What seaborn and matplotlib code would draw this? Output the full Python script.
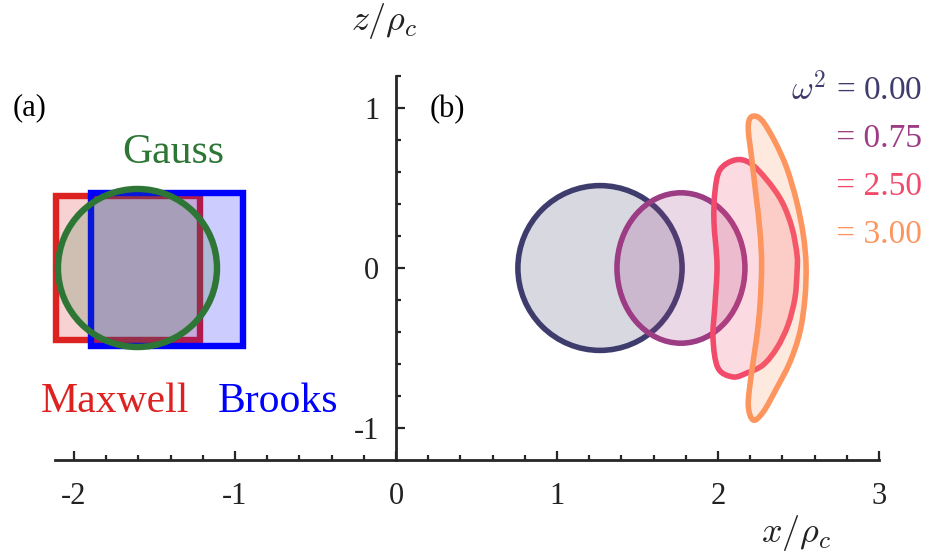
import matplotlib
matplotlib.use("Agg")
import matplotlib.pyplot as plt
from matplotlib.patches import Rectangle, Ellipse, PathPatch
from matplotlib.path import Path
from matplotlib.ticker import FixedLocator
import seaborn as sns
import numpy as np

sns.set_theme(style="white")
plt.rcParams['font.family'] = ['Liberation Serif', 'DejaVu Serif']
plt.rcParams['mathtext.fontset'] = 'cm'
plt.rcParams['axes.unicode_minus'] = False

# panel (a): initial distributions (boxes + gaussian)
box_names = ["Maxwell", "Brooks"]
box_x0 = [-2.11, -1.894]
box_x1 = [-1.217, -0.950]
box_z0 = [-0.45, -0.486]
box_z1 = [0.45, 0.471]
box_colors = ["#dd2222", "#0000ff"]
box_label_x = [-1.745, -0.733]
gauss_cx = -1.606
gauss_w = 0.988
gauss_h = 0.988
gauss_color = "#2e7636"

# panel (b): contours for several omega^2
omega2 = [0.00, 0.75, 2.50, 3.00]
colors_b = ["#3e3c6c", "#9c3c84", "#f24a6b", "#fd955f"]
ell_cx = [1.267, 1.77]
ell_w = [1.02, 0.795]
ell_h = [1.03, 0.94]

pink_x = [2.106, 2.199, 2.304, 2.398, 2.460, 2.491, 2.491, 2.478, 2.435, 2.366,
          2.280, 2.180, 2.093, 2.000, 1.969, 1.981, 1.994, 1.975, 1.981, 2.012]
pink_z = [0.675, 0.656, 0.550, 0.413, 0.250, 0.081, -0.025, -0.188, -0.356, -0.500,
          -0.606, -0.656, -0.681, -0.625, -0.438, -0.231, 0.019, 0.288, 0.475, 0.613]

orange_x = [2.209, 2.271, 2.354, 2.427, 2.489, 2.530, 2.547, 2.540, 2.509, 2.447,
            2.365, 2.281, 2.219, 2.188, 2.209, 2.240, 2.261, 2.271, 2.261, 2.236,
            2.209, 2.188]
orange_z = [0.946, 0.925, 0.789, 0.625, 0.414, 0.206, 0.019, -0.188, -0.400, -0.588,
            -0.750, -0.900, -0.950, -0.856, -0.650, -0.438, -0.231, 0.019, 0.225, 0.456,
            0.688, 0.875]

x_major = [-2, -1, 0, 1, 2, 3]
z_major = [-1, 0, 1]

axis_col = "#262626"
lw_a = 4.6
lw_b = 4.0


def smooth_closed_path(xs, zs):
    # closed Catmull-Rom curve through the read points, drawn as cubic Beziers
    p = np.column_stack([xs, zs])
    n = len(p)
    verts = [p[0]]
    codes = [Path.MOVETO]
    for i in range(n):
        p0, p1, p2, p3 = p[i - 1], p[i], p[(i + 1) % n], p[(i + 2) % n]
        verts += [p1 + (p2 - p0) / 6, p2 - (p3 - p1) / 6, p2]
        codes += [Path.CURVE4] * 3
    verts.append(p[0])
    codes.append(Path.CLOSEPOLY)
    return Path(verts, codes)


fig = plt.figure(figsize=(9.3, 5.58), dpi=100)
ax = fig.add_axes([0, 0, 1, 1])
ax.set_facecolor("white")

# panel (a)
for x0, x1, z0, z1, c in zip(box_x0, box_x1, box_z0, box_z1, box_colors):
    ax.add_patch(Rectangle((x0, z0), x1 - x0, z1 - z0, facecolor=c, alpha=0.2, lw=0))
    ax.add_patch(Rectangle((x0, z0), x1 - x0, z1 - z0, facecolor="none", edgecolor=c, lw=lw_a))
ax.add_patch(Ellipse((gauss_cx, 0), gauss_w, gauss_h, facecolor=gauss_color, alpha=0.2, lw=0))
ax.add_patch(Ellipse((gauss_cx, 0), gauss_w, gauss_h, facecolor="none", edgecolor=gauss_color, lw=lw_a))

for name, lx, c in zip(box_names, box_label_x, box_colors):
    ax.text(lx, -0.90, name, color=c, fontsize=30, ha="center", va="baseline")
ax.text(-1.385, 0.656, "Gauss", color=gauss_color, fontsize=30, ha="center", va="baseline")

# panel (b)
for cx, w, h, c in zip(ell_cx, ell_w, ell_h, colors_b[:2]):
    ax.add_patch(Ellipse((cx, 0), w, h, facecolor=c, alpha=0.2, lw=0))
    ax.add_patch(Ellipse((cx, 0), w, h, facecolor="none", edgecolor=c, lw=lw_b))
for xs, zs, c in [(pink_x, pink_z, colors_b[2]), (orange_x, orange_z, colors_b[3])]:
    path = smooth_closed_path(xs, zs)
    ax.add_patch(PathPatch(path, facecolor=c, alpha=0.2, lw=0))
    ax.add_patch(PathPatch(path, facecolor="none", edgecolor=c, lw=lw_b, joinstyle="round"))

# legend-like labels
legend_z = [1.05, 0.756, 0.456, 0.156]
for i, (w2, c, zz) in enumerate(zip(omega2, colors_b, legend_z)):
    txt = (r"$\omega^2$" if i == 0 else "") + f" = {w2:.2f}"
    ax.text(3.267, zz, txt, color=c, fontsize=24, ha="right", va="baseline")

ax.text(-2.276, 0.956, "(a)", fontsize=22, ha="center", va="baseline", color="black")
ax.text(0.317, 0.944, "(b)", fontsize=22, ha="center", va="baseline", color="black")

# axes
ax.set_xlim(-2.46, 3.317)
ax.set_ylim(-1.8125, 1.675)
for s in ["top", "right"]:
    ax.spines[s].set_visible(False)
ax.spines["left"].set_position(("data", 0))
ax.spines["left"].set_bounds(-1.2, 1.2)
ax.spines["bottom"].set_position(("data", -1.2))
ax.spines["bottom"].set_bounds(-2.12, 3.0)
for s in ["left", "bottom"]:
    ax.spines[s].set_color(axis_col)
    ax.spines[s].set_linewidth(2.0)

ax.set_xticks(x_major, [str(v) for v in x_major])
ax.set_yticks(z_major, [str(v) for v in z_major])
ax.xaxis.set_minor_locator(FixedLocator([v for v in np.round(np.arange(-1.8, 3.0, 0.2), 2) if abs(v - round(v)) > 1e-6]))
ax.yaxis.set_minor_locator(FixedLocator([v for v in np.round(np.arange(-0.8, 1.21, 0.2), 2) if abs(v - round(v)) > 1e-6]))
ax.tick_params(which="both", direction="in", color=axis_col, width=1.6,
               bottom=True, left=True, top=False, right=False)
ax.tick_params(which="major", length=6.5, labelsize=22, labelcolor="#222222")
ax.tick_params(which="minor", length=3.6)
ax.tick_params(axis="x", which="major", pad=16)
ax.tick_params(axis="y", which="major", pad=12)
ax.grid(False)

ax.text(-0.075, 1.49, r"$z/\rho_c$", fontsize=26, ha="center", va="baseline", color="#222222")
ax.text(2.484, -1.71, r"$x/\rho_c$", fontsize=26, ha="center", va="baseline", color="#222222")

fig.savefig("out.png", dpi=100)
